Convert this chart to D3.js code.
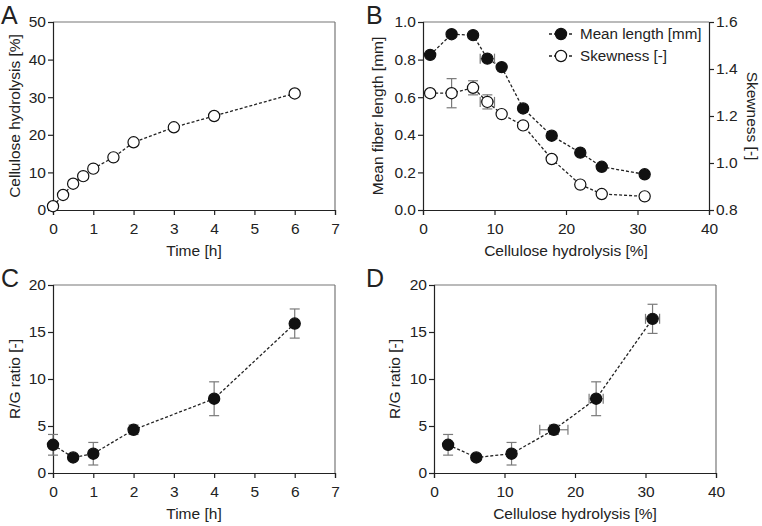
<!DOCTYPE html>
<html><head><meta charset="utf-8">
<script src="https://cdn.jsdelivr.net/npm/d3@7"></script>
<style>body{margin:0;background:#fff}svg{display:block}text{font-family:"Liberation Sans",Arial,sans-serif;fill:#222}</style>
</head><body><svg id="c" width="762" height="526"></svg>
<script>
// Panel A
const timeA = [0,0.25,0.5,0.75,1,1.5,2,3,4,6];
const hydroA = [1,4,7,9,11,14,18,22,25,31];
// Panel B
const hydroB = [1,4,7,9,11,14,18,22,25,31];
const hydroBxErr = [0,0,0,1,0,0,0,0,0,0];
const meanLen = [0.825,0.935,0.93,0.805,0.76,0.54,0.395,0.305,0.23,0.19];
const skew = [1.297,1.297,1.32,1.26,1.208,1.16,1.017,0.908,0.868,0.858];
const skewErr = [0,0.062,0.03,0.03,0,0,0,0,0,0];
// Panel C
const timeC = [0,0.5,1,2,4,6];
const rgC = [3.0,1.65,2.05,4.6,7.9,15.9];
const rgCErr = [1.1,0,1.2,0.5,1.8,1.55];
// Panel D
const hydroD = [2,6,11,17,23,31];
const hydroDErr = [0,0,0,2,1,1];
const rgD = [3.0,1.65,2.05,4.6,7.9,16.4];
const rgDErr = [1.1,0,1.2,0.5,1.8,1.55];

const svg = d3.select("#c");
const R = 5.6;
const TICK = "15.5px", TITLE = "15.5px";

function panel(o){
  const g = svg.append("g");
  const x = d3.scaleLinear().domain(o.xd).range([o.x0,o.x1]);
  const y = d3.scaleLinear().domain(o.yd).range([o.y0,o.y1]);
  g.append("line").attr("x1",o.x0).attr("x2",o.x1).attr("y1",o.y1).attr("y2",o.y1).attr("stroke","#777").attr("stroke-width",1.2);
  if(!o.y2d) g.append("line").attr("x1",o.x1).attr("x2",o.x1).attr("y1",o.y1).attr("y2",o.y0).attr("stroke","#777").attr("stroke-width",1.2);
  const xa = g.append("g").attr("transform",`translate(0,${o.y0})`).call(d3.axisBottom(x).tickValues(o.xt).tickSize(5).tickPadding(4).tickFormat(d3.format("d")));
  const ya = g.append("g").attr("transform",`translate(${o.x0},0)`).call(d3.axisLeft(y).tickValues(o.yt).tickSize(5).tickPadding(2).tickFormat(o.yf||d3.format("d")));
  [xa,ya].forEach(a=>{a.selectAll("path,line").attr("stroke","#222").attr("stroke-width",1.2);a.selectAll("text").style("font-size",TICK).attr("fill","#222");});
  xa.selectAll("text").attr("dy","0.95em");
  let y2=null;
  if(o.y2d){
    y2 = d3.scaleLinear().domain(o.y2d).range([o.y0,o.y1]);
    const a2 = g.append("g").attr("transform",`translate(${o.x1},0)`).call(d3.axisRight(y2).tickValues(o.y2t).tickSize(5).tickPadding(2).tickFormat(d3.format(".1f")));
    a2.selectAll("path,line").attr("stroke","#222").attr("stroke-width",1.2);a2.selectAll("text").style("font-size",TICK).attr("fill","#222");
    g.append("text").attr("transform",`translate(${o.x1+43},${(o.y0+o.y1)/2}) rotate(90)`).attr("text-anchor","middle").attr("dy","0.35em").style("font-size",TITLE).text(o.y2title);
  }
  g.append("text").attr("x",(o.x0+o.x1)/2).attr("y",o.y0+46).attr("text-anchor","middle").style("font-size",TITLE).text(o.xtitle);
  g.append("text").attr("transform",`translate(${o.ytx},${(o.y0+o.y1)/2}) rotate(-90)`).attr("text-anchor","middle").attr("dy","0.35em").style("font-size",TITLE).text(o.ytitle);
  g.append("text").attr("x",o.lx).attr("y",o.ly).style("font-size","25px").text(o.letter);
  return {g,x,y,y2};
}

function series(p, xs, ys, sc, filled, yerr, xerr){
  const pts = xs.map((d,i)=>({x:d,y:ys[i],ye:yerr?yerr[i]:0,xe:xerr?xerr[i]:0}));
  const line = d3.line().x(d=>p.x(d.x)).y(d=>sc(d.y));
  p.g.append("path").datum(pts).attr("d",line).attr("fill","none").attr("stroke","#222").attr("stroke-width",1.3).attr("stroke-dasharray","3,2");
  const eb = p.g.append("g").attr("stroke","#7a7a7a").attr("stroke-width",1.2);
  const c = 5;
  pts.filter(d=>d.ye>0).forEach(d=>{
    const cx=p.x(d.x), a=sc(d.y-d.ye), b=sc(d.y+d.ye);
    eb.append("line").attr("x1",cx).attr("x2",cx).attr("y1",a).attr("y2",b);
    eb.append("line").attr("x1",cx-c).attr("x2",cx+c).attr("y1",a).attr("y2",a);
    eb.append("line").attr("x1",cx-c).attr("x2",cx+c).attr("y1",b).attr("y2",b);
  });
  pts.filter(d=>d.xe>0).forEach(d=>{
    const cy=sc(d.y), a=p.x(d.x-d.xe), b=p.x(d.x+d.xe);
    eb.append("line").attr("x1",a).attr("x2",b).attr("y1",cy).attr("y2",cy);
    eb.append("line").attr("x1",a).attr("x2",a).attr("y1",cy-c).attr("y2",cy+c);
    eb.append("line").attr("x1",b).attr("x2",b).attr("y1",cy-c).attr("y2",cy+c);
  });
  p.g.append("g").selectAll("circle").data(pts).join("circle")
    .attr("cx",d=>p.x(d.x)).attr("cy",d=>sc(d.y)).attr("r",R)
    .attr("fill",filled?"#111":"#fff").attr("stroke","#111").attr("stroke-width",1.2);
}

const pA = panel({x0:53,x1:335,y0:210,y1:22,xd:[0,7],yd:[0,50],xt:d3.range(0,8),yt:[0,10,20,30,40,50],
  xtitle:"Time [h]",ytitle:"Cellulose hydrolysis [%]",ytx:15,letter:"A",lx:1,ly:24});
series(pA,timeA,hydroA,pA.y,false);

const pB = panel({x0:423,x1:709,y0:210,y1:22,xd:[0,40],yd:[0,1],xt:[0,10,20,30,40],yt:[0,0.2,0.4,0.6,0.8,1.0],yf:d3.format(".1f"),
  y2d:[0.8,1.6],y2t:[0.8,1.0,1.2,1.4,1.6],y2title:"Skewness [-]",
  xtitle:"Cellulose hydrolysis [%]",ytitle:"Mean fiber length [mm]",ytx:378,letter:"B",lx:366,ly:24});
series(pB,hydroB,skew,pB.y2,false,skewErr,hydroBxErr);
series(pB,hydroB,meanLen,pB.y,true,null,hydroBxErr);
const leg = [["Mean length [mm]",true,34],["Skewness [-]",false,56]];
leg.forEach(([t,f,ly])=>{
  pB.g.append("line").attr("x1",549).attr("x2",574).attr("y1",ly).attr("y2",ly).attr("stroke","#222").attr("stroke-width",1.3).attr("stroke-dasharray","3,2");
  pB.g.append("circle").attr("cx",561).attr("cy",ly).attr("r",R).attr("fill",f?"#111":"#fff").attr("stroke","#111").attr("stroke-width",1.2);
  pB.g.append("text").attr("x",580).attr("y",ly).attr("dy","0.35em").style("font-size","15.2px").text(t);
});

const pC = panel({x0:53,x1:335,y0:473,y1:285,xd:[0,7],yd:[0,20],xt:d3.range(0,8),yt:[0,5,10,15,20],
  xtitle:"Time [h]",ytitle:"R/G ratio [-]",ytx:15,letter:"C",lx:1,ly:287});
series(pC,timeC,rgC,pC.y,true,rgCErr);

const pD = panel({x0:434,x1:716,y0:473,y1:285,xd:[0,40],yd:[0,20],xt:[0,10,20,30,40],yt:[0,5,10,15,20],
  xtitle:"Cellulose hydrolysis [%]",ytitle:"R/G ratio [-]",ytx:395,letter:"D",lx:366,ly:287});
series(pD,hydroD,rgD,pD.y,true,rgDErr,hydroDErr);
</script></body></html>
